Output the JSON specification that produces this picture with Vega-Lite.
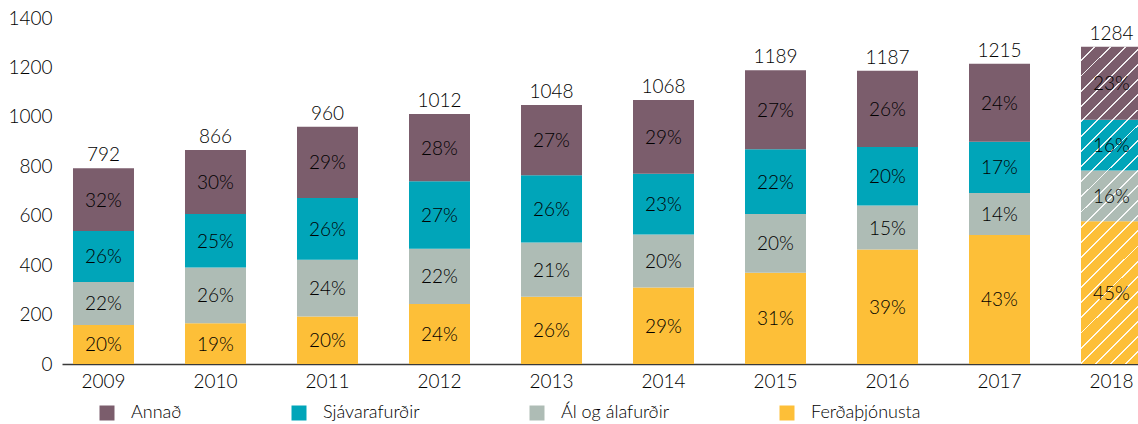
{
  "$schema": "https://vega.github.io/schema/vega-lite/v6.json",
  "width": 1076,
  "height": 346,
  "autosize": "none",
  "padding": {"left": 62, "top": 18, "right": 0, "bottom": 60},
  "background": "white",
  "datasets": {
    "segments": [
      {"year": "2009", "cat": "Ferðaþjónusta", "ord": 1, "value": 158, "pct": "20%"},
      {"year": "2009", "cat": "Ál og álafurðir", "ord": 2, "value": 174, "pct": "22%"},
      {"year": "2009", "cat": "Sjávarafurðir", "ord": 3, "value": 206, "pct": "26%"},
      {"year": "2009", "cat": "Annað", "ord": 4, "value": 254, "pct": "32%"},
      {"year": "2010", "cat": "Ferðaþjónusta", "ord": 1, "value": 165, "pct": "19%"},
      {"year": "2010", "cat": "Ál og álafurðir", "ord": 2, "value": 225, "pct": "26%"},
      {"year": "2010", "cat": "Sjávarafurðir", "ord": 3, "value": 217, "pct": "25%"},
      {"year": "2010", "cat": "Annað", "ord": 4, "value": 259, "pct": "30%"},
      {"year": "2011", "cat": "Ferðaþjónusta", "ord": 1, "value": 192, "pct": "20%"},
      {"year": "2011", "cat": "Ál og álafurðir", "ord": 2, "value": 230, "pct": "24%"},
      {"year": "2011", "cat": "Sjávarafurðir", "ord": 3, "value": 250, "pct": "26%"},
      {"year": "2011", "cat": "Annað", "ord": 4, "value": 288, "pct": "29%"},
      {"year": "2012", "cat": "Ferðaþjónusta", "ord": 1, "value": 243, "pct": "24%"},
      {"year": "2012", "cat": "Ál og álafurðir", "ord": 2, "value": 223, "pct": "22%"},
      {"year": "2012", "cat": "Sjávarafurðir", "ord": 3, "value": 273, "pct": "27%"},
      {"year": "2012", "cat": "Annað", "ord": 4, "value": 273, "pct": "28%"},
      {"year": "2013", "cat": "Ferðaþjónusta", "ord": 1, "value": 272, "pct": "26%"},
      {"year": "2013", "cat": "Ál og álafurðir", "ord": 2, "value": 220, "pct": "21%"},
      {"year": "2013", "cat": "Sjávarafurðir", "ord": 3, "value": 272, "pct": "26%"},
      {"year": "2013", "cat": "Annað", "ord": 4, "value": 284, "pct": "27%"},
      {"year": "2014", "cat": "Ferðaþjónusta", "ord": 1, "value": 310, "pct": "29%"},
      {"year": "2014", "cat": "Ál og álafurðir", "ord": 2, "value": 214, "pct": "20%"},
      {"year": "2014", "cat": "Sjávarafurðir", "ord": 3, "value": 246, "pct": "23%"},
      {"year": "2014", "cat": "Annað", "ord": 4, "value": 298, "pct": "29%"},
      {"year": "2015", "cat": "Ferðaþjónusta", "ord": 1, "value": 369, "pct": "31%"},
      {"year": "2015", "cat": "Ál og álafurðir", "ord": 2, "value": 238, "pct": "20%"},
      {"year": "2015", "cat": "Sjávarafurðir", "ord": 3, "value": 262, "pct": "22%"},
      {"year": "2015", "cat": "Annað", "ord": 4, "value": 320, "pct": "27%"},
      {"year": "2016", "cat": "Ferðaþjónusta", "ord": 1, "value": 463, "pct": "39%"},
      {"year": "2016", "cat": "Ál og álafurðir", "ord": 2, "value": 178, "pct": "15%"},
      {"year": "2016", "cat": "Sjávarafurðir", "ord": 3, "value": 237, "pct": "20%"},
      {"year": "2016", "cat": "Annað", "ord": 4, "value": 309, "pct": "26%"},
      {"year": "2017", "cat": "Ferðaþjónusta", "ord": 1, "value": 522, "pct": "43%"},
      {"year": "2017", "cat": "Ál og álafurðir", "ord": 2, "value": 170, "pct": "14%"},
      {"year": "2017", "cat": "Sjávarafurðir", "ord": 3, "value": 207, "pct": "17%"},
      {"year": "2017", "cat": "Annað", "ord": 4, "value": 316, "pct": "24%"},
      {"year": "2018", "cat": "Ferðaþjónusta", "ord": 1, "value": 578, "pct": "45%"},
      {"year": "2018", "cat": "Ál og álafurðir", "ord": 2, "value": 205, "pct": "16%"},
      {"year": "2018", "cat": "Sjávarafurðir", "ord": 3, "value": 205, "pct": "16%"},
      {"year": "2018", "cat": "Annað", "ord": 4, "value": 296, "pct": "23%"}
    ],
    "totals": [
      {"year": "2009", "total": 792, "forecast": false},
      {"year": "2010", "total": 866, "forecast": false},
      {"year": "2011", "total": 960, "forecast": false},
      {"year": "2012", "total": 1012, "forecast": false},
      {"year": "2013", "total": 1048, "forecast": false},
      {"year": "2014", "total": 1068, "forecast": false},
      {"year": "2015", "total": 1189, "forecast": false},
      {"year": "2016", "total": 1187, "forecast": false},
      {"year": "2017", "total": 1215, "forecast": false},
      {"year": "2018", "total": 1284, "forecast": true}
    ]
  },
  "encoding": {
    "x": {
      "field": "year",
      "type": "ordinal",
      "scale": {"range": [0, 1091], "paddingInner": 0.4554, "paddingOuter": 0.0982},
      "axis": {
        "title": null,
        "labelAngle": 0,
        "ticks": false,
        "domainColor": "#3a3a3a",
        "domainWidth": 1.5,
        "labelFont": "Lato",
        "labelFontSize": 19,
        "labelFontWeight": 300,
        "labelColor": "#000000",
        "labelBaseline": "alphabetic",
        "labelPadding": 23
      }
    }
  },
  "layer": [
    {
      "data": {"name": "segments"},
      "mark": {"type": "bar"},
      "encoding": {
        "y": {
          "field": "value",
          "type": "quantitative",
          "stack": "zero",
          "scale": {"domain": [0, 1400], "nice": false},
          "axis": {
            "title": null,
            "format": "d",
            "values": [0, 200, 400, 600, 800, 1000, 1200, 1400],
            "grid": false,
            "domain": false,
            "ticks": false,
            "labelPadding": 10,
            "labelFont": "Lato",
            "labelFontSize": 19,
            "labelFontWeight": 300,
            "labelColor": "#000000"
          }
        },
        "order": {"field": "ord", "type": "quantitative", "sort": "ascending"},
        "color": {
          "field": "cat",
          "type": "nominal",
          "scale": {
            "domain": ["Annað", "Sjávarafurðir", "Ál og álafurðir", "Ferðaþjónusta"],
            "range": ["#7b5d6c", "#00a5b9", "#aebcb5", "#fdbf38"]
          },
          "legend": {
            "title": null,
            "orient": "none",
            "legendX": 36,
            "legendY": 386,
            "direction": "horizontal",
            "symbolType": "square",
            "symbolSize": 225,
            "symbolStrokeWidth": 0,
            "symbolOpacity": 1,
            "labelFont": "Lato",
            "labelFontSize": 18,
            "labelFontWeight": 300,
            "labelColor": "#000000",
            "labelOffset": 15,
            "columnPadding": 108
          }
        }
      }
    },
    {
      "data": {"name": "totals"},
      "transform": [{"filter": "datum.forecast"}],
      "mark": {
        "type": "bar",
        "fill": {
          "gradient": "linear",
          "x1": 0, "y1": 0, "x2": 0.2198, "y2": 1.149,
          "stops": [
            {"offset": 0.000, "color": "rgba(255,255,255,0)"}, {"offset": 0.035, "color": "rgba(255,255,255,0)"}, {"offset": 0.035, "color": "rgba(255,255,255,0.9)"}, {"offset": 0.040, "color": "rgba(255,255,255,0.9)"},
            {"offset": 0.040, "color": "rgba(255,255,255,0)"}, {"offset": 0.075, "color": "rgba(255,255,255,0)"}, {"offset": 0.075, "color": "rgba(255,255,255,0.9)"}, {"offset": 0.080, "color": "rgba(255,255,255,0.9)"},
            {"offset": 0.080, "color": "rgba(255,255,255,0)"}, {"offset": 0.115, "color": "rgba(255,255,255,0)"}, {"offset": 0.115, "color": "rgba(255,255,255,0.9)"}, {"offset": 0.120, "color": "rgba(255,255,255,0.9)"},
            {"offset": 0.120, "color": "rgba(255,255,255,0)"}, {"offset": 0.155, "color": "rgba(255,255,255,0)"}, {"offset": 0.155, "color": "rgba(255,255,255,0.9)"}, {"offset": 0.160, "color": "rgba(255,255,255,0.9)"},
            {"offset": 0.160, "color": "rgba(255,255,255,0)"}, {"offset": 0.195, "color": "rgba(255,255,255,0)"}, {"offset": 0.195, "color": "rgba(255,255,255,0.9)"}, {"offset": 0.200, "color": "rgba(255,255,255,0.9)"},
            {"offset": 0.200, "color": "rgba(255,255,255,0)"}, {"offset": 0.235, "color": "rgba(255,255,255,0)"}, {"offset": 0.235, "color": "rgba(255,255,255,0.9)"}, {"offset": 0.240, "color": "rgba(255,255,255,0.9)"},
            {"offset": 0.240, "color": "rgba(255,255,255,0)"}, {"offset": 0.275, "color": "rgba(255,255,255,0)"}, {"offset": 0.275, "color": "rgba(255,255,255,0.9)"}, {"offset": 0.280, "color": "rgba(255,255,255,0.9)"},
            {"offset": 0.280, "color": "rgba(255,255,255,0)"}, {"offset": 0.315, "color": "rgba(255,255,255,0)"}, {"offset": 0.315, "color": "rgba(255,255,255,0.9)"}, {"offset": 0.320, "color": "rgba(255,255,255,0.9)"},
            {"offset": 0.320, "color": "rgba(255,255,255,0)"}, {"offset": 0.355, "color": "rgba(255,255,255,0)"}, {"offset": 0.355, "color": "rgba(255,255,255,0.9)"}, {"offset": 0.360, "color": "rgba(255,255,255,0.9)"},
            {"offset": 0.360, "color": "rgba(255,255,255,0)"}, {"offset": 0.395, "color": "rgba(255,255,255,0)"}, {"offset": 0.395, "color": "rgba(255,255,255,0.9)"}, {"offset": 0.400, "color": "rgba(255,255,255,0.9)"},
            {"offset": 0.400, "color": "rgba(255,255,255,0)"}, {"offset": 0.435, "color": "rgba(255,255,255,0)"}, {"offset": 0.435, "color": "rgba(255,255,255,0.9)"}, {"offset": 0.440, "color": "rgba(255,255,255,0.9)"},
            {"offset": 0.440, "color": "rgba(255,255,255,0)"}, {"offset": 0.475, "color": "rgba(255,255,255,0)"}, {"offset": 0.475, "color": "rgba(255,255,255,0.9)"}, {"offset": 0.480, "color": "rgba(255,255,255,0.9)"},
            {"offset": 0.480, "color": "rgba(255,255,255,0)"}, {"offset": 0.515, "color": "rgba(255,255,255,0)"}, {"offset": 0.515, "color": "rgba(255,255,255,0.9)"}, {"offset": 0.520, "color": "rgba(255,255,255,0.9)"},
            {"offset": 0.520, "color": "rgba(255,255,255,0)"}, {"offset": 0.555, "color": "rgba(255,255,255,0)"}, {"offset": 0.555, "color": "rgba(255,255,255,0.9)"}, {"offset": 0.560, "color": "rgba(255,255,255,0.9)"},
            {"offset": 0.560, "color": "rgba(255,255,255,0)"}, {"offset": 0.595, "color": "rgba(255,255,255,0)"}, {"offset": 0.595, "color": "rgba(255,255,255,0.9)"}, {"offset": 0.600, "color": "rgba(255,255,255,0.9)"},
            {"offset": 0.600, "color": "rgba(255,255,255,0)"}, {"offset": 0.635, "color": "rgba(255,255,255,0)"}, {"offset": 0.635, "color": "rgba(255,255,255,0.9)"}, {"offset": 0.640, "color": "rgba(255,255,255,0.9)"},
            {"offset": 0.640, "color": "rgba(255,255,255,0)"}, {"offset": 0.675, "color": "rgba(255,255,255,0)"}, {"offset": 0.675, "color": "rgba(255,255,255,0.9)"}, {"offset": 0.680, "color": "rgba(255,255,255,0.9)"},
            {"offset": 0.680, "color": "rgba(255,255,255,0)"}, {"offset": 0.715, "color": "rgba(255,255,255,0)"}, {"offset": 0.715, "color": "rgba(255,255,255,0.9)"}, {"offset": 0.720, "color": "rgba(255,255,255,0.9)"},
            {"offset": 0.720, "color": "rgba(255,255,255,0)"}, {"offset": 0.755, "color": "rgba(255,255,255,0)"}, {"offset": 0.755, "color": "rgba(255,255,255,0.9)"}, {"offset": 0.760, "color": "rgba(255,255,255,0.9)"},
            {"offset": 0.760, "color": "rgba(255,255,255,0)"}, {"offset": 0.795, "color": "rgba(255,255,255,0)"}, {"offset": 0.795, "color": "rgba(255,255,255,0.9)"}, {"offset": 0.800, "color": "rgba(255,255,255,0.9)"},
            {"offset": 0.800, "color": "rgba(255,255,255,0)"}, {"offset": 0.835, "color": "rgba(255,255,255,0)"}, {"offset": 0.835, "color": "rgba(255,255,255,0.9)"}, {"offset": 0.840, "color": "rgba(255,255,255,0.9)"},
            {"offset": 0.840, "color": "rgba(255,255,255,0)"}, {"offset": 0.875, "color": "rgba(255,255,255,0)"}, {"offset": 0.875, "color": "rgba(255,255,255,0.9)"}, {"offset": 0.880, "color": "rgba(255,255,255,0.9)"},
            {"offset": 0.880, "color": "rgba(255,255,255,0)"}, {"offset": 0.915, "color": "rgba(255,255,255,0)"}, {"offset": 0.915, "color": "rgba(255,255,255,0.9)"}, {"offset": 0.920, "color": "rgba(255,255,255,0.9)"},
            {"offset": 0.920, "color": "rgba(255,255,255,0)"}, {"offset": 0.955, "color": "rgba(255,255,255,0)"}, {"offset": 0.955, "color": "rgba(255,255,255,0.9)"}, {"offset": 0.960, "color": "rgba(255,255,255,0.9)"},
            {"offset": 0.960, "color": "rgba(255,255,255,0)"}, {"offset": 0.995, "color": "rgba(255,255,255,0)"}, {"offset": 0.995, "color": "rgba(255,255,255,0.9)"}, {"offset": 1.000, "color": "rgba(255,255,255,0.9)"}
          ]
        }
      },
      "encoding": {
        "y": {"field": "total", "type": "quantitative"}
      }
    },
    {
      "data": {"name": "segments"},
      "transform": [
        {"stack": "value", "groupby": ["year"], "sort": [{"field": "ord", "order": "ascending"}], "as": ["v0", "v1"]},
        {"calculate": "(datum.v0 + datum.v1) / 2", "as": "mid"}
      ],
      "mark": {"type": "text", "font": "Lato", "fontSize": 19, "fontWeight": 300, "color": "#000000", "baseline": "middle", "dy": 1},
      "encoding": {
        "y": {"field": "mid", "type": "quantitative"},
        "text": {"field": "pct", "type": "nominal"}
      }
    },
    {
      "data": {"name": "totals"},
      "mark": {"type": "text", "font": "Lato", "fontSize": 19, "fontWeight": 300, "color": "#000000", "baseline": "alphabetic", "dy": -7},
      "encoding": {
        "y": {"field": "total", "type": "quantitative"},
        "text": {"field": "total", "type": "quantitative", "format": "d"}
      }
    }
  ],
  "config": {
    "view": {"stroke": null},
    "axis": {"labelFont": "Lato"}
  }
}
